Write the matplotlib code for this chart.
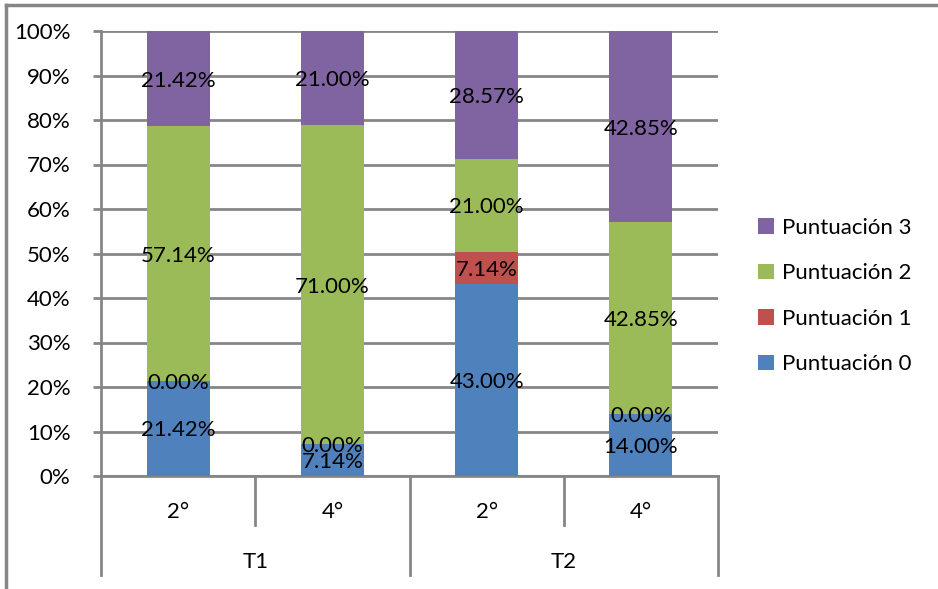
import numpy as np
import matplotlib
matplotlib.use("Agg")
import matplotlib.pyplot as plt
from matplotlib.lines import Line2D
from matplotlib.patches import Patch

plt.rcParams['font.family'] = ['Lato', 'DejaVu Sans']

# Data: percentage of students per score, by grade (2°/4°) and test (T1/T2)
grades = ["2°", "4°", "2°", "4°"]
tests = ["T1", "T2"]
series_names = ["Puntuación 0", "Puntuación 1", "Puntuación 2", "Puntuación 3"]
p0 = [21.42, 7.14, 43.00, 14.00]
p1 = [0.00, 0.00, 7.14, 0.00]
p2 = [57.14, 71.00, 21.00, 42.85]
p3 = [21.42, 21.00, 28.57, 42.85]
colors = ["#4F81BD", "#C0504D", "#9BBB59", "#8064A2"]

FS = 16
W, H = 938, 589
fig = plt.figure(figsize=(W / 100, H / 100), dpi=100)
ax = fig.add_axes([101 / W, 1 - 476 / H, (718 - 101) / W, (476 - 31) / H])

grid_c = "#868686"
data = np.array([p0, p1, p2, p3])
totals = data.sum(axis=0)
shares = data / totals * 100
x = np.arange(len(grades))
bottom = np.zeros(len(grades))
for vals, raw, c in zip(shares, data, colors):
    ax.bar(x, vals, bottom=bottom, width=0.41, color=c, zorder=3)
    for xi, b, v, r in zip(x, bottom, vals, raw):
        ax.text(xi, b + v / 2, f"{r:.2f}%", ha="center", va="center_baseline",
                fontsize=FS, color="black", zorder=5)
    bottom += vals

ax.set_xlim(-0.5, len(grades) - 0.5)
ax.set_ylim(0, 100)
ax.set_yticks(np.arange(0, 101, 10))
ax.set_yticklabels([f"{v}%" for v in range(0, 101, 10)], fontsize=FS)
ax.yaxis.grid(True, color=grid_c, linewidth=2, zorder=0)
ax.set_axisbelow(True)
ax.tick_params(axis="y", length=6, width=2, color=grid_c, pad=16)
ax.tick_params(axis="x", length=0, labelbottom=False)
for s in ["top", "right"]:
    ax.spines[s].set_visible(False)
ax.spines["left"].set_color(grid_c)
ax.spines["left"].set_linewidth(2)
ax.spines["bottom"].set_color(grid_c)
ax.spines["bottom"].set_linewidth(2)

# Two-level category axis drawn below the plot
trans = ax.get_xaxis_transform()
px = 1 / (476 - 31)  # one pixel in axes-fraction units (vertical)
short_end = -(525 - 476) * px
long_end = -(575 - 476) * px
for i, xs in enumerate(np.arange(-0.5, len(grades), 1.0)):
    end = long_end if i % 2 == 0 else short_end
    ax.add_line(Line2D([xs, xs], [0, end], transform=trans, color=grid_c,
                       linewidth=2, clip_on=False))
for xi, g in zip(x, grades):
    ax.text(xi, -(512 - 476) * px, g, transform=trans, ha="center",
            va="center", fontsize=FS)
for j, t in enumerate(tests):
    ax.text(2 * j + 0.5, -(562 - 476) * px, t, transform=trans, ha="center",
            va="center", fontsize=FS)

# Legend
handles = [Patch(facecolor=c, edgecolor="none") for c in colors[::-1]]
fig.legend(handles, series_names[::-1], loc="center left",
           bbox_to_anchor=(738 / W, 1 - 296 / H), frameon=False, fontsize=FS,
           handlelength=0.7, handleheight=0.7, handletextpad=0.4,
           labelspacing=1.15)

# Chart frame
fig.add_artist(Line2D([6 / W, 1], [1 - 5 / H, 1 - 5 / H], transform=fig.transFigure,
                      color=grid_c, linewidth=2.5))
fig.add_artist(Line2D([6 / W, 6 / W], [0, 1 - 5 / H], transform=fig.transFigure,
                      color=grid_c, linewidth=2.5))

fig.savefig("out.png", dpi=100)
